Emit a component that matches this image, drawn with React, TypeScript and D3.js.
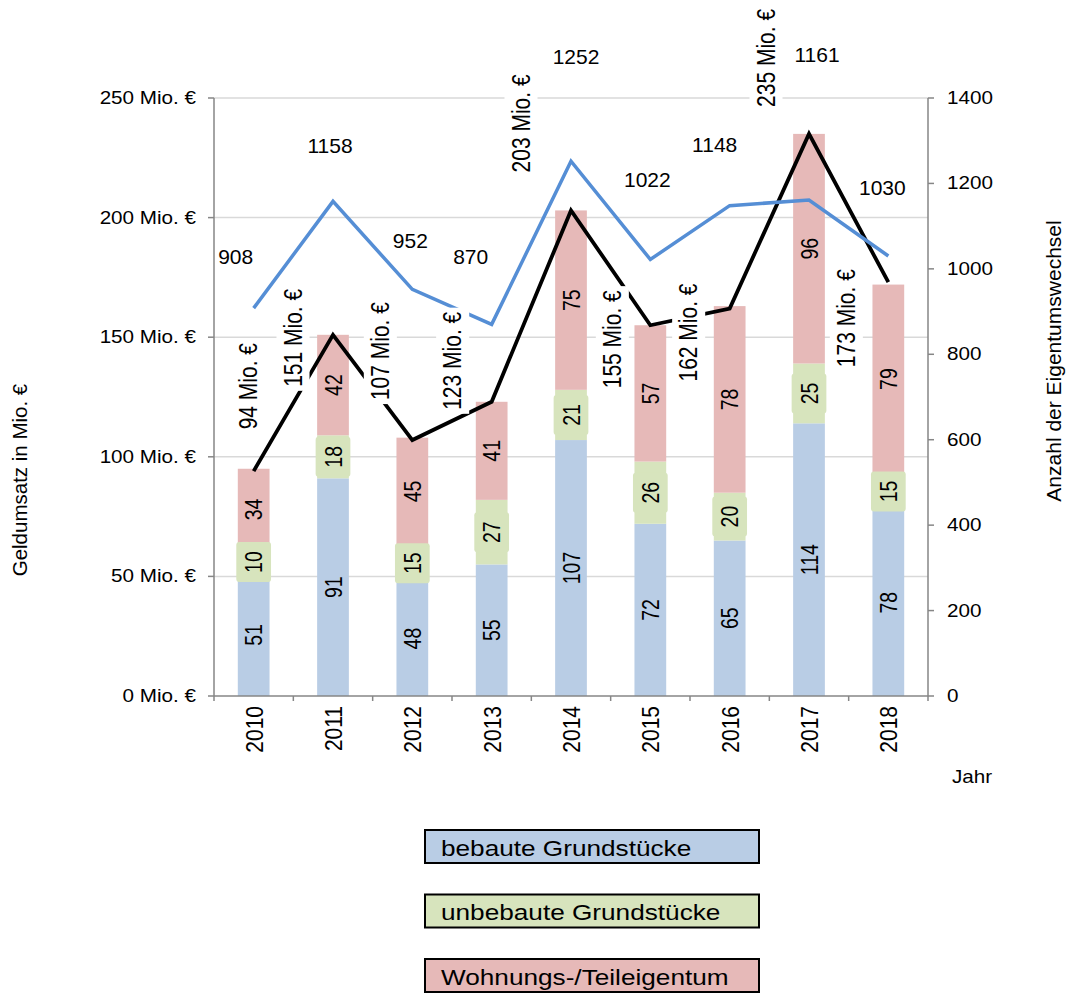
import { useEffect, useRef } from "react"
import * as d3 from "d3"

const years = ["2010", "2011", "2012", "2013", "2014", "2015", "2016", "2017", "2018"]
const bebaut = [51, 91, 48, 55, 107, 72, 65, 114, 78]
const unbebaut = [10, 18, 15, 27, 21, 26, 20, 25, 15]
const wohnung = [34, 42, 45, 41, 75, 57, 78, 96, 79]
const totals = [94, 151, 107, 123, 203, 155, 162, 235, 173]
const counts = [908, 1158, 952, 870, 1252, 1022, 1148, 1161, 1030]
const leftTicks = [0, 50, 100, 150, 200, 250]
const rightTicks = [0, 200, 400, 600, 800, 1000, 1200, 1400]
const seriesNames = ["bebaute Grundstücke", "unbebaute Grundstücke", "Wohnungs-/Teileigentum"]

// hand-placed label offsets (as in the original chart)
const totalLabelShift = [[-5, -85], [-40, 3], [-32, -89], [-39, -41], [-50, -87], [-38, 14], [-41, 24], [-43, -76], [-42, 36]]
const countLabelShift = [[-18, -52], [-3, -56], [-2, -49], [-21, -68], [5, -105], [-3, -80], [-15, -61], [8, -146], [-6, -69]]

const colors = ["#B9CDE5", "#D7E4BD", "#E6B9B8"]
const FONT = "'Liberation Sans', Arial, sans-serif"

export default function App() {
  const svgRef = useRef<SVGSVGElement>(null)

  useEffect(() => {
    if (!svgRef.current) return
    const svg = d3.select(svgRef.current)
    svg.selectAll("*").remove()

    const left = 214
    const right = 928
    const top = 98
    const bottom = 696

    const x = d3.scaleBand().domain(years).range([left, right]).paddingInner(0.6).paddingOuter(0.3)
    const yL = d3.scaleLinear().domain([0, 250]).range([bottom, top])
    const yR = d3.scaleLinear().domain([0, 1400]).range([bottom, top])
    const cx = (y: string) => (x(y) || 0) + x.bandwidth() / 2

    const text = (
      parent: any,
      px: number,
      py: number,
      str: string,
      size: number,
      sx = 1,
      rot = 0,
      anchor = "middle"
    ) =>
      parent
        .append("text")
        .attr("transform", `translate(${px},${py}) scale(${sx},1) rotate(${rot})`)
        .attr("text-anchor", anchor)
        .attr("dominant-baseline", "central")
        .attr("font-family", FONT)
        .attr("font-size", size)
        .attr("fill", "#000")
        .text(str)

    // gridlines
    svg
      .append("g")
      .selectAll("line")
      .data(leftTicks.slice(1))
      .enter()
      .append("line")
      .attr("x1", left)
      .attr("x2", right)
      .attr("y1", (d) => yL(d))
      .attr("y2", (d) => yL(d))
      .attr("stroke", "#D9D9D9")
      .attr("stroke-width", 1.5)

    // stacked bars
    const table = years.map((y, i) => ({ year: y, a: bebaut[i], b: unbebaut[i], c: wohnung[i] }))
    const stack = d3.stack<any>().keys(["a", "b", "c"])(table)
    stack.forEach((layer, li) => {
      svg
        .append("g")
        .selectAll("rect")
        .data(layer)
        .enter()
        .append("rect")
        .attr("x", (d: any) => x(d.data.year) || 0)
        .attr("width", x.bandwidth())
        .attr("y", (d) => yL(d[1]))
        .attr("height", (d) => yL(d[0]) - yL(d[1]))
        .attr("fill", colors[li])
    })

    // segment labels
    const segLabels = svg.append("g")
    stack.forEach((layer, li) => {
      layer.forEach((d: any) => {
        const mx = cx(d.data.year)
        const my = (yL(d[0]) + yL(d[1])) / 2
        if (li === 1) {
          segLabels
            .append("rect")
            .attr("x", mx - x.bandwidth() / 2 - 1.5)
            .attr("width", x.bandwidth() + 3)
            .attr("y", my - 20)
            .attr("height", 40)
            .attr("rx", 3)
            .attr("fill", colors[1])
        }
        text(segLabels, mx + 1, my, String(d[1] - d[0]), 19.5, 1.18, -90)
      })
    })

    // axes
    const axis = svg.append("g").attr("stroke", "#868686").attr("stroke-width", 1.5)
    axis.append("line").attr("x1", left).attr("x2", left).attr("y1", top).attr("y2", bottom)
    axis.append("line").attr("x1", right).attr("x2", right).attr("y1", top).attr("y2", bottom)
    axis.append("line").attr("x1", left).attr("x2", right).attr("y1", bottom).attr("y2", bottom)
    leftTicks.forEach((t) => {
      axis.append("line").attr("x1", left - 6).attr("x2", left).attr("y1", yL(t)).attr("y2", yL(t))
      text(svg, left - 18, yL(t), `${t} Mio. €`, 17.5, 1.18, 0, "end")
    })
    rightTicks.forEach((t) => {
      axis.append("line").attr("x1", right).attr("x2", right + 6).attr("y1", yR(t)).attr("y2", yR(t))
      text(svg, right + 19, yR(t), String(t), 17.5, 1.18, 0, "start")
    })
    const step = x.step()
    for (let i = 0; i <= years.length; i++) {
      const tx = left + i * step
      axis.append("line").attr("x1", tx).attr("x2", tx).attr("y1", bottom).attr("y2", bottom + 5)
    }
    years.forEach((y) => {
      text(svg, cx(y) + 1, bottom + 10, y, 21, 1.15, -90, "end")
    })

    // axis titles
    text(svg, 19, 480, "Geldumsatz in Mio. €", 20.5, 1, -90)
    text(svg, 1053, 361, "Anzahl der Eigentumswechsel", 21, 1, -90)
    text(svg, 952, 777, "Jahr", 17.5, 1.18, 0, "start")

    // total line (black)
    const totalLine = d3
      .line<number>()
      .x((_, i) => cx(years[i]))
      .y((d) => yL(d))
    svg
      .append("path")
      .datum(totals)
      .attr("fill", "none")
      .attr("stroke", "#000")
      .attr("stroke-width", 3.8)
      .attr("stroke-linejoin", "miter")
      .attr("d", totalLine)

    // count line (blue)
    const countLine = d3
      .line<number>()
      .x((_, i) => cx(years[i]))
      .y((d) => yR(d))
    svg
      .append("path")
      .datum(counts)
      .attr("fill", "none")
      .attr("stroke", "#558ED5")
      .attr("stroke-width", 3.5)
      .attr("d", countLine)

    // total labels with white boxes
    totals.forEach((v, i) => {
      const px = cx(years[i]) + totalLabelShift[i][0]
      const py = yL(v) + totalLabelShift[i][1]
      const g = svg.append("g").attr("transform", `translate(${px},${py}) scale(1.2,1) rotate(-90)`)
      const rect = g.append("rect").attr("fill", "#fff")
      const t = g
        .append("text")
        .attr("text-anchor", "middle")
        .attr("dominant-baseline", "central")
        .attr("font-family", FONT)
        .attr("font-size", 21)
        .text(`${v} Mio. €`)
      const bb = (t.node() as SVGTextElement).getBBox()
      rect
        .attr("x", bb.x - 4)
        .attr("y", bb.y - 2)
        .attr("width", bb.width + 8)
        .attr("height", bb.height + 4)
    })

    // count labels
    counts.forEach((v, i) => {
      const px = cx(years[i]) + countLabelShift[i][0]
      const py = yR(v) + countLabelShift[i][1]
      text(svg, px, py, String(v), 21)
    })

    // legend
    const legend = svg.append("g")
    seriesNames.forEach((name, i) => {
      const ly = 830 + i * 64.5
      legend
        .append("rect")
        .attr("x", 425)
        .attr("y", ly)
        .attr("width", 334)
        .attr("height", 33)
        .attr("fill", colors[i])
        .attr("stroke", "#000")
        .attr("stroke-width", 2)
      text(legend, 441, ly + 18, name, 22, 1.19, 0, "start")
    })
  }, [])

  return (
    <svg
      ref={svgRef}
      width={1067}
      height={994}
      style={{ position: "absolute", left: 0, top: 0, background: "#fff" }}
    />
  )
}
